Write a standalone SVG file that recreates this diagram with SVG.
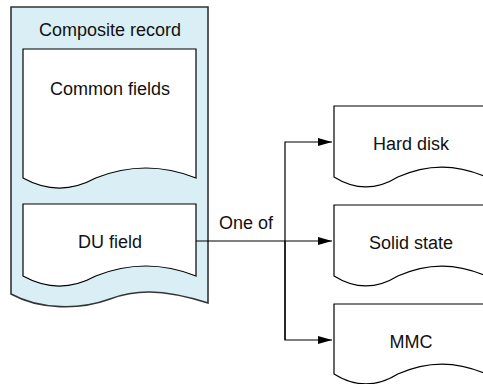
<svg xmlns="http://www.w3.org/2000/svg" width="483" height="384" viewBox="0 0 483 384">
  <defs>
    <style>
      .outer { fill: #d9eff5; stroke: #333333; stroke-width: 1.6; }
      .doc { fill: #ffffff; stroke: #000000; stroke-width: 1.2; }
      .lbl { font-family: "Liberation Sans", Arial, sans-serif; font-size: 18px; fill: #111111; text-anchor: middle; }
      .conn { fill: none; stroke: #000000; stroke-width: 1.2; }
    </style>
    <marker id="arrow" viewBox="0 0 14 8" refX="14" refY="4" markerWidth="14" markerHeight="8" markerUnits="userSpaceOnUse" orient="auto">
      <path d="M0,0 L14,4 L0,8 Z" fill="#000000"/>
    </marker>
  </defs>
  <rect width="483" height="384" fill="#ffffff"/>

  <g id="composite-record">
    <path class="outer" d="M11,7 H208 V303 C160,288 134,290.2 110,299 C80,310 40,310 11,294 Z"/>
    <text class="lbl" x="110" y="36">Composite record</text>
  </g>

  <g id="common-fields">
    <path class="doc" d="M23,49 H196 V178 C162.6,164.7 129.1,164.7 95.7,178 C71.5,191.3 47,191.3 23,178 Z"/>
    <text class="lbl" x="110" y="95">Common fields</text>
  </g>

  <g id="du-field">
    <path class="doc" d="M23,204 H196 V276 C162.6,262.7 129.1,262.7 95.7,276 C71.5,289.3 47,289.3 23,276 Z"/>
    <text class="lbl" x="110" y="248">DU field</text>
  </g>

  <g id="hard-disk">
    <path class="doc" d="M334,177 V106 H486 V177 C456.6,163.7 427.2,163.7 397.8,177 C376.5,190.3 355.3,190.3 334,177 Z"/>
    <text class="lbl" x="411" y="150">Hard disk</text>
  </g>

  <g id="solid-state">
    <path class="doc" d="M334,276 V205 H486 V276 C456.6,262.7 427.2,262.7 397.8,276 C376.5,289.3 355.3,289.3 334,276 Z"/>
    <text class="lbl" x="411" y="249">Solid state</text>
  </g>

  <g id="mmc">
    <path class="doc" d="M334,374 V304 H486 V374 C456.6,360.7 427.2,360.7 397.8,374 C376.5,387.3 355.3,387.3 334,374 Z"/>
    <text class="lbl" x="411" y="348">MMC</text>
  </g>

  <g id="connectors">
    <path class="conn" d="M196,241 H332" marker-end="url(#arrow)"/>
    <path class="conn" d="M285,340 V142 H332" marker-end="url(#arrow)"/>
    <path class="conn" d="M285,241 V340 H332" marker-end="url(#arrow)"/>
    <text class="lbl" x="246" y="229">One of</text>
  </g>
</svg>
